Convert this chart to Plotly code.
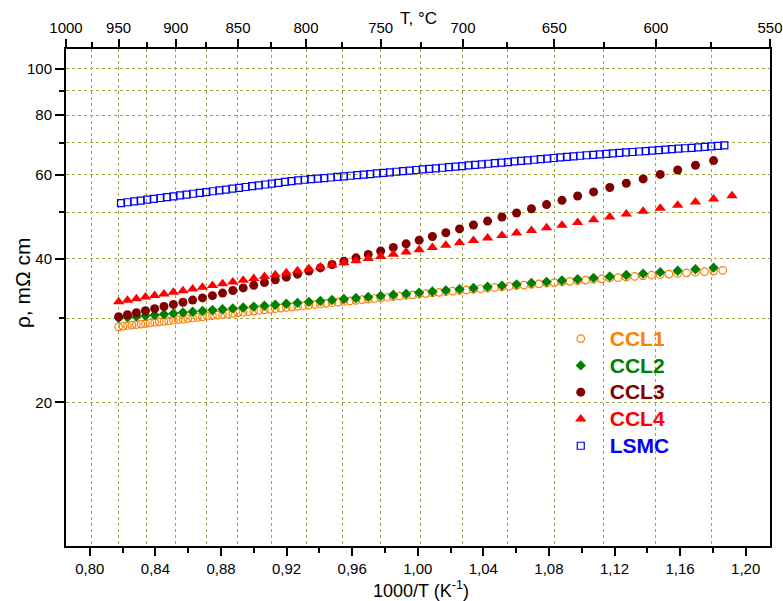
import math
import plotly.graph_objects as go

# ---------------- data ----------------
# temperatures in deg C of the measured points
T_CCL1 = [950, 946, 942, 938, 934, 930, 926, 922, 918, 914, 910, 906, 902, 898, 894, 890,
          886, 882, 878, 874, 870, 866, 862, 858, 854, 850, 846, 842, 838, 834, 830, 826,
          822, 818, 814, 810, 806, 802, 798, 794, 790, 786, 782, 778, 774, 770, 766, 762,
          758, 754, 750, 746, 742, 738, 734, 730, 726, 722, 718, 714, 710, 706, 702, 698,
          694, 690, 686, 682, 678, 674, 670, 666, 662, 658, 654, 650, 646, 642, 638, 634,
          630, 626, 622, 618, 614, 610, 606, 602, 598, 594, 590, 586, 582, 578, 574, 570]
RHO_CCL1 = [28.79, 28.87, 28.94, 29.02, 29.10, 29.17, 29.25, 29.33, 29.41, 29.48, 29.56, 29.64,
            29.72, 29.80, 29.88, 29.96, 30.04, 30.13, 30.21, 30.30, 30.38, 30.46, 30.55, 30.63,
            30.72, 30.80, 30.89, 30.98, 31.06, 31.15, 31.24, 31.33, 31.42, 31.51, 31.60, 31.69,
            31.78, 31.87, 31.97, 32.06, 32.15, 32.24, 32.34, 32.43, 32.53, 32.62, 32.72, 32.82,
            32.91, 33.01, 33.11, 33.21, 33.31, 33.40, 33.50, 33.60, 33.70, 33.80, 33.90, 34.00,
            34.10, 34.20, 34.30, 34.40, 34.50, 34.60, 34.70, 34.81, 34.91, 35.02, 35.12, 35.22,
            35.33, 35.43, 35.54, 35.64, 35.75, 35.86, 35.96, 36.07, 36.18, 36.29, 36.39, 36.50,
            36.60, 36.71, 36.82, 36.93, 37.03, 37.14, 37.25, 37.36, 37.47, 37.57, 37.68, 37.79]

T_CCL2 = [950, 942, 934, 926, 918, 910, 902, 894, 886, 878, 870, 862, 854, 846, 838, 830,
          822, 814, 806, 798, 790, 782, 774, 766, 758, 750, 742, 734, 726, 718, 710, 702,
          694, 686, 678, 670, 662, 654, 646, 638, 630, 622, 614, 606, 598, 590, 582, 574]
RHO_CCL2 = [30.04, 30.15, 30.26, 30.37, 30.48, 30.60, 30.72, 30.84, 30.96, 31.09, 31.21, 31.34,
            31.47, 31.61, 31.74, 31.88, 32.02, 32.17, 32.32, 32.47, 32.62, 32.78, 32.93, 33.09,
            33.26, 33.43, 33.61, 33.78, 33.96, 34.15, 34.33, 34.53, 34.72, 34.92, 35.13, 35.34,
            35.56, 35.77, 36.00, 36.23, 36.46, 36.71, 36.96, 37.21, 37.48, 37.74, 38.02, 38.30]

T_CCL3 = [950, 942, 934, 926, 918, 910, 902, 894, 886, 878, 870, 862, 854, 846, 838, 830,
          822, 814, 806, 798, 790, 782, 774, 766, 758, 750, 742, 734, 726, 718, 710, 702,
          694, 686, 678, 670, 662, 654, 646, 638, 630, 622, 614, 606, 598, 590, 582, 574]
RHO_CCL3 = [30.22, 30.52, 30.81, 31.12, 31.43, 31.75, 32.08, 32.41, 32.75, 33.10, 33.46, 33.88,
            34.31, 34.74, 35.19, 35.64, 36.12, 36.59, 37.12, 37.69, 38.26, 38.89, 39.52, 40.16,
            40.83, 41.50, 42.23, 42.96, 43.73, 44.52, 45.32, 46.18, 47.05, 47.95, 48.90, 49.85,
            50.89, 51.93, 53.00, 54.11, 55.21, 56.38, 57.55, 58.78, 60.07, 61.35, 62.78, 64.21]

T_CCL4 = [950, 942, 934, 926, 918, 910, 902, 894, 886, 878, 870, 862, 854, 846, 838, 830,
          822, 814, 806, 798, 790, 782, 774, 766, 758, 750, 742, 734, 726, 718, 710, 702,
          694, 686, 678, 670, 662, 654, 646, 638, 630, 622, 614, 606, 598, 590, 582, 574, 566]
RHO_CCL4 = [32.49, 32.73, 32.98, 33.23, 33.48, 33.74, 34.01, 34.28, 34.56, 34.85, 35.13, 35.43,
            35.74, 36.05, 36.37, 36.69, 37.03, 37.37, 37.72, 38.08, 38.44, 38.82, 39.20, 39.60,
            40.01, 40.42, 40.86, 41.29, 41.74, 42.21, 42.67, 43.17, 43.67, 44.19, 44.72, 45.26,
            45.84, 46.41, 47.01, 47.64, 48.26, 48.93, 49.60, 50.30, 51.03, 51.76, 52.55, 53.34,
            54.16]

# LSMC was logged directly as 1000/T (K^-1)
INVT_LSMC = [0.819, 0.823, 0.827, 0.831, 0.835, 0.839, 0.843, 0.847, 0.851, 0.855,
             0.859, 0.863, 0.867, 0.871, 0.875, 0.879, 0.883, 0.887, 0.891, 0.895,
             0.899, 0.903, 0.907, 0.911, 0.915, 0.919, 0.923, 0.927, 0.931, 0.935,
             0.939, 0.943, 0.947, 0.951, 0.955, 0.959, 0.963, 0.967, 0.971, 0.975,
             0.979, 0.983, 0.987, 0.991, 0.995, 0.999, 1.003, 1.007, 1.011, 1.015,
             1.019, 1.023, 1.027, 1.031, 1.035, 1.039, 1.043, 1.047, 1.051, 1.055,
             1.059, 1.063, 1.067, 1.071, 1.075, 1.079, 1.083, 1.087, 1.091, 1.095,
             1.099, 1.103, 1.107, 1.111, 1.115, 1.119, 1.123, 1.127, 1.131, 1.135,
             1.139, 1.143, 1.147, 1.151, 1.155, 1.159, 1.163, 1.167, 1.171, 1.175,
             1.179, 1.183, 1.187]
RHO_LSMC = [52.31, 52.52, 52.74, 52.95, 53.17, 53.39, 53.60, 53.82, 54.04, 54.26,
            54.48, 54.71, 54.93, 55.15, 55.38, 55.60, 55.83, 56.06, 56.29, 56.52,
            56.75, 56.98, 57.21, 57.45, 57.68, 57.92, 58.15, 58.37, 58.53, 58.69,
            58.86, 59.02, 59.18, 59.35, 59.51, 59.67, 59.84, 60.00, 60.17, 60.34,
            60.50, 60.67, 60.84, 61.01, 61.18, 61.35, 61.52, 61.69, 61.86, 62.03,
            62.20, 62.37, 62.54, 62.72, 62.89, 63.06, 63.24, 63.41, 63.59, 63.76,
            63.94, 64.12, 64.29, 64.47, 64.65, 64.83, 65.01, 65.19, 65.37, 65.55,
            65.73, 65.88, 66.03, 66.18, 66.33, 66.48, 66.63, 66.78, 66.93, 67.08,
            67.23, 67.38, 67.53, 67.68, 67.83, 67.99, 68.14, 68.29, 68.45, 68.60,
            68.76, 68.91, 69.07]

SERIES_NAMES = ["CCL1", "CCL2", "CCL3", "CCL4", "LSMC"]

# axis ticks
T_TOP_MAJOR = [1000, 950, 900, 850, 800, 750, 700, 650, 600, 550]
T_TOP_MINOR = [975, 925, 875, 825, 775, 725, 675, 625, 575]
X_TICKS = [0.80, 0.84, 0.88, 0.92, 0.96, 1.00, 1.04, 1.08, 1.12, 1.16, 1.20]
X_MINOR = [0.82, 0.86, 0.90, 0.94, 0.98, 1.02, 1.06, 1.10, 1.14, 1.18]
Y_TICKS = [20, 40, 60, 80, 100]
Y_MINOR = [30, 50, 70, 90]
T_RANGE = [1000, 550]
Y_RANGE = [10, 110]


def inv_t(temps):
    return [1000.0 / (t + 273.15) for t in temps]


# ---------------- figure ----------------
FONT = "Liberation Sans, Arial, sans-serif"
GRID = "#a3a34a"
COLORS = ["#FF8000", "#008000", "#800000", "#FF0000", "#0000FF"]

fig = go.Figure()


def legend_name(name, color):
    return f"<span style='color:{color};font-size:21px'><b>{name}</b></span>"


fig.add_trace(go.Scatter(
    x=inv_t(T_CCL1), y=RHO_CCL1, mode="markers", name=legend_name(SERIES_NAMES[0], COLORS[0]),
    marker=dict(symbol="circle-open", size=7.5, color=COLORS[0], line=dict(width=1.2, color=COLORS[0]))))
fig.add_trace(go.Scatter(
    x=inv_t(T_CCL2), y=RHO_CCL2, mode="markers", name=legend_name(SERIES_NAMES[1], COLORS[1]),
    marker=dict(symbol="diamond", size=8, color=COLORS[1], line=dict(width=0))))
fig.add_trace(go.Scatter(
    x=inv_t(T_CCL3), y=RHO_CCL3, mode="markers", name=legend_name(SERIES_NAMES[2], COLORS[2]),
    marker=dict(symbol="circle", size=9, color=COLORS[2], line=dict(width=0))))
fig.add_trace(go.Scatter(
    x=inv_t(T_CCL4), y=RHO_CCL4, mode="markers", name=legend_name(SERIES_NAMES[3], COLORS[3]),
    marker=dict(symbol="triangle-up", size=10, color=COLORS[3], line=dict(width=0))))
# LSMC is drawn against the (identically scaled) top temperature axis so that axis is rendered
fig.add_trace(go.Scatter(
    x=INVT_LSMC, y=RHO_LSMC, mode="markers", name=legend_name(SERIES_NAMES[4], COLORS[4]),
    xaxis="x2", yaxis="y",
    marker=dict(symbol="square-open", size=7, color=COLORS[4], line=dict(width=1.2, color=COLORS[4]))))

x_range = inv_t(T_RANGE)
tickfont = dict(family=FONT, size=15, color="black")

fig.update_layout(
    width=783, height=601,
    margin=dict(l=66, r=13, t=49, b=55, pad=0, autoexpand=False),
    paper_bgcolor="white", plot_bgcolor="white",
    separators=", ",
    font=dict(family=FONT, size=15, color="black"),
    showlegend=True,
    legend=dict(x=0.690, y=0.4543, xanchor="left", yanchor="top",
                bgcolor="rgba(0,0,0,0)", borderwidth=0,
                font=dict(family=FONT, size=18.3), itemwidth=48),
    xaxis=dict(
        range=x_range, showgrid=False, zeroline=False, automargin=False,
        showline=True, linewidth=2, linecolor="black", mirror=False,
        tickmode="array", tickvals=X_TICKS, tickformat=".2f",
        ticks="outside", ticklen=8, tickwidth=1.5, tickcolor="black",
        tickfont=tickfont,
        minor=dict(tickmode="array", tickvals=X_MINOR, ticks="outside",
                   ticklen=5, tickwidth=1.5, tickcolor="black", showgrid=False),
    ),
    xaxis2=dict(
        range=x_range, overlaying="x", side="top", anchor="y", automargin=False,
        zeroline=False, showline=True, linewidth=2, linecolor="black",
        tickmode="array", tickvals=inv_t(T_TOP_MAJOR), ticktext=[str(t) for t in T_TOP_MAJOR],
        ticks="outside", ticklen=8, tickwidth=1.5, tickcolor="black",
        tickfont=tickfont,
        showgrid=True, gridcolor=GRID, griddash="dot", gridwidth=1,
        minor=dict(tickmode="array", tickvals=inv_t(T_TOP_MINOR), ticks="outside",
                   ticklen=5, tickwidth=1.5, tickcolor="black",
                   showgrid=True, gridcolor=GRID, griddash="dot", gridwidth=1),
    ),
    yaxis=dict(
        type="log", range=[math.log10(Y_RANGE[0]), math.log10(Y_RANGE[1])], automargin=False,
        zeroline=False, showline=True, linewidth=2, linecolor="black", mirror=True,
        tickmode="array", tickvals=Y_TICKS, ticktext=[str(v) for v in Y_TICKS],
        ticks="outside", ticklen=9, tickwidth=1.5, tickcolor="black",
        tickfont=tickfont,
        showgrid=True, gridcolor=GRID, griddash="dot", gridwidth=1,
        minor=dict(tickmode="array", tickvals=Y_MINOR, ticks="outside",
                   ticklen=5, tickwidth=1.5, tickcolor="black",
                   showgrid=True, gridcolor=GRID, griddash="dot", gridwidth=1),
    ),
    annotations=[
        dict(text="1000/T (K<sup>-1</sup>)", xref="paper", yref="paper", x=0.5036, y=-0.088,
             xanchor="center", yanchor="middle", showarrow=False,
             font=dict(family=FONT, size=18, color="black")),
        dict(text="ρ, mΩ cm", xref="paper", yref="paper", x=-0.0625, y=0.529,
             xanchor="center", yanchor="middle", textangle=-90, showarrow=False,
             font=dict(family=FONT, size=21, color="black")),
        dict(text="T, °C", xref="paper", yref="paper", x=0.5014, y=1.062,
             xanchor="center", yanchor="middle", showarrow=False,
             font=dict(family=FONT, size=17, color="black")),
    ],
)

fig.write_html("out.html")
